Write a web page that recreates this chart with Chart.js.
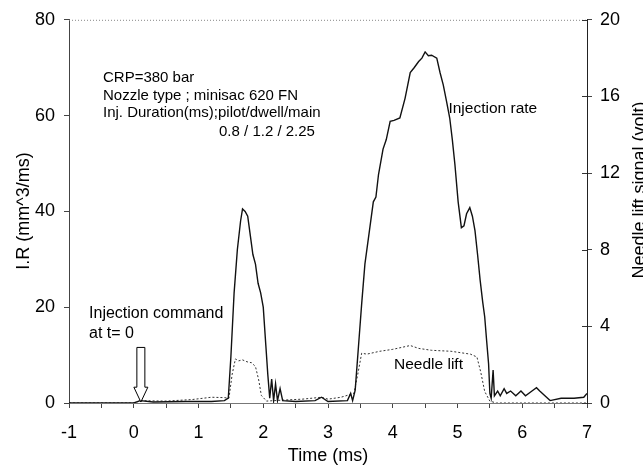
<!DOCTYPE html>
<html>
<head>
<meta charset="utf-8">
<script src="https://cdn.jsdelivr.net/npm/chart.js@4.4.1/dist/chart.umd.min.js"></script>
<style>
  html, body { margin: 0; padding: 0; background: #fff; }
  #wrap { width: 643px; height: 472px; }
</style>
</head>
<body>
<div id="wrap"><canvas id="myChart"></canvas></div>
<script>
// injection rate, mm^3/ms (left axis)
let rateTime = [-1.0, 0.0, 0.1, 0.3, 0.8, 1.2, 1.40, 1.46, 1.50, 1.55, 1.60, 1.65, 1.68, 1.72, 1.76, 1.80, 1.84, 1.88, 1.92, 1.96, 2.00, 2.04, 2.07, 2.10, 2.13, 2.16, 2.19, 2.22, 2.26, 2.30, 2.5, 2.8, 2.9, 3.0, 3.3, 3.35, 3.38, 3.42, 3.47, 3.52, 3.57, 3.64, 3.70, 3.74, 3.78, 3.85, 3.90, 3.96, 4.02, 4.11, 4.19, 4.27, 4.33, 4.40, 4.45, 4.50, 4.55, 4.60, 4.68, 4.73, 4.78, 4.83, 4.88, 4.92, 4.96, 5.01, 5.06, 5.10, 5.14, 5.19, 5.23, 5.27, 5.31, 5.35, 5.39, 5.42, 5.45, 5.48, 5.50, 5.52, 5.55, 5.57, 5.62, 5.66, 5.72, 5.76, 5.82, 5.90, 5.98, 6.05, 6.15, 6.22, 6.27, 6.35, 6.43, 6.6, 6.8, 6.95, 7.0]
let rateValue = [0, 0, 0.5, 0.2, 0.3, 0.3, 0.5, 1, 9.6, 23, 32, 38, 40.5, 40, 39, 35, 31, 29, 25, 23, 20, 12, 6, 1, 5, 0.5, 4, 0.5, 3, 0.5, 0.3, 0.5, 1.2, 0.3, 0.5, 2, 0.5, 2.7, 11.7, 20.7, 29, 36, 42, 43, 47.7, 53, 55, 58.8, 59, 59.5, 63.6, 69, 70, 71.3, 72, 73.3, 72.5, 72.6, 72, 69, 66.4, 63, 59.5, 55, 49.8, 42, 36.6, 37, 39.5, 40.8, 39, 36, 31, 25.6, 21, 18, 13, 8.2, 2, 1, 6.9, 1.5, 2.5, 1.5, 3, 2, 2.5, 1.5, 2.5, 1.5, 2.5, 3.2, 2.5, 1.5, 0.5, 1, 1, 1.2, 2]

// needle lift signal, volt (right axis)
let liftTime = [-1, 0, 0.1, 0.5, 0.9, 1.2, 1.4, 1.47, 1.52, 1.57, 1.62, 1.68, 1.75, 1.82, 1.88, 1.93, 1.97, 2.05, 2.3, 2.6, 2.9, 3.0, 3.2, 3.4, 3.46, 3.52, 3.6, 3.8, 4.0, 4.27, 4.4, 4.6, 4.9, 5.2, 5.3, 5.36, 5.42, 5.5, 5.6, 7]
let liftValue = [0, 0, 0.12, 0.1, 0.18, 0.3, 0.28, 0.25, 1.5, 2.3, 2.2, 2.25, 2.15, 2.1, 1.9, 1.2, 0.4, 0.1, 0.15, 0.2, 0.3, 0.2, 0.3, 0.5, 1.5, 2.6, 2.55, 2.7, 2.8, 3.0, 2.85, 2.75, 2.7, 2.55, 2.4, 1.6, 0.6, 0.1, 0, 0]

let xTicks = [-1, 0, 1, 2, 3, 4, 5, 6, 7]
let leftTicks = [0, 20, 40, 60, 80]
let rightTicks = [0, 4, 8, 12, 16, 20]

const FONT = "'Liberation Sans', Arial, sans-serif"

const extras = {
    id: "extras",
    afterDraw(chart) {
        const ctx = chart.ctx
        const a = chart.chartArea
        const x = chart.scales.x, y = chart.scales.y, y1 = chart.scales.y1
        ctx.save()

        // dotted top border
        ctx.strokeStyle = "#888"
        ctx.lineWidth = 1
        ctx.setLineDash([1, 2])
        ctx.beginPath()
        ctx.moveTo(a.left, a.top + 0.5)
        ctx.lineTo(a.right, a.top + 0.5)
        ctx.stroke()
        ctx.setLineDash([])

        // inner ticks on right axis
        ctx.strokeStyle = "#333"
        rightTicks.forEach(v => {
            const py = Math.round(y1.getPixelForValue(v)) + 0.5
            ctx.beginPath()
            ctx.moveTo(a.right - 5, py)
            ctx.lineTo(a.right, py)
            ctx.stroke()
        })

        // annotations
        ctx.fillStyle = "#000"
        ctx.textAlign = "left"
        ctx.textBaseline = "middle"
        const notes = [
            ["CRP=380 bar", -0.475, 67.8, 15],
            ["Nozzle type ; minisac 620 FN", -0.475, 64.2, 15],
            ["Inj. Duration(ms);pilot/dwell/main", -0.475, 60.5, 15],
            ["0.8 / 1.2 / 2.25", 1.317, 56.7, 15],
            ["Injection rate", 4.86, 61.5, 15.5],
            ["Needle lift", 4.02, 7.9, 15.5],
            ["Injection command", -0.69, 18.7, 16],
            ["at t= 0", -0.69, 14.5, 16],
        ]
        notes.forEach(n => {
            ctx.font = n[3] + "px " + FONT
            ctx.fillText(n[0], x.getPixelForValue(n[1]), y.getPixelForValue(n[2]))
        })

        // hollow arrow at t = 0
        const ax = x.getPixelForValue(0.11)
        const top = y.getPixelForValue(11.6)
        const neck = y.getPixelForValue(3.3)
        const tip = y.getPixelForValue(0.2)
        ctx.strokeStyle = "#000"
        ctx.lineWidth = 1
        ctx.fillStyle = "#fff"
        ctx.beginPath()
        ctx.moveTo(ax - 4, top)
        ctx.lineTo(ax + 4, top)
        ctx.lineTo(ax + 4, neck)
        ctx.lineTo(ax + 7, neck)
        ctx.lineTo(ax, tip)
        ctx.lineTo(ax - 7, neck)
        ctx.lineTo(ax - 4, neck)
        ctx.closePath()
        ctx.fill()
        ctx.stroke()

        // axis titles
        ctx.fillStyle = "#000"
        ctx.font = "18px " + FONT
        ctx.textAlign = "center"
        ctx.textBaseline = "middle"
        ctx.fillText("Time (ms)", (a.left + a.right) / 2, 456)

        ctx.save()
        ctx.translate(24, 211)
        ctx.rotate(-Math.PI / 2)
        ctx.fillText("I.R (mm^3/ms)", 0, 0)
        ctx.restore()

        // right title runs off the canvas edge, as in the original
        ctx.save()
        ctx.font = "18px " + FONT
        ctx.textBaseline = "alphabetic"
        ctx.translate(645, 190)
        ctx.rotate(-Math.PI / 2)
        ctx.fillText("Needle lift signal (volt)", 0, 0)
        ctx.restore()

        ctx.restore()
    }
}

new Chart("myChart", {
    type: "line",
    data: {
        datasets: [
            {
                label: "Injection rate",
                data: rateTime.map((t, i) => ({ x: t, y: rateValue[i] })),
                borderColor: "#111",
                borderWidth: 1.4,
                pointRadius: 0,
                yAxisID: "y",
            },
            {
                label: "Needle lift",
                data: liftTime.map((t, i) => ({ x: t, y: liftValue[i] })),
                borderColor: "#333",
                borderWidth: 1,
                borderDash: [2, 2],
                pointRadius: 0,
                yAxisID: "y1",
            },
        ]
    },
    options: {
        responsive: true,
        maintainAspectRatio: false,
        animation: false,
        layout: { padding: { top: 18 } },
        plugins: {
            legend: { display: false },
            tooltip: { enabled: false }
        },
        scales: {
            x: {
                type: "linear",
                min: -1,
                max: 7,
                afterFit: s => { s.height = 69 },
                afterBuildTicks: s => { s.ticks = [] ; for (let v = -1; v <= 7; v += 0.5) s.ticks.push({ value: v }) },
                ticks: {
                    autoSkip: false,
                    maxRotation: 0,
                    padding: 14,
                    color: "#000",
                    font: { size: 18, family: FONT },
                    callback: v => xTicks.includes(v) ? String(v) : ""
                },
                grid: { drawOnChartArea: false, tickLength: 5, color: "#444" },
                border: { color: "#777", dash: [1, 2] }
            },
            y: {
                position: "left",
                min: 0,
                max: 80,
                afterFit: s => { s.width = 69 },
                afterBuildTicks: s => { s.ticks = leftTicks.map(v => ({ value: v })) },
                ticks: {
                    padding: 9,
                    color: "#000",
                    font: { size: 18, family: FONT }
                },
                grid: { drawOnChartArea: false, tickLength: 5, color: "#444" },
                border: { color: "#444" }
            },
            y1: {
                position: "right",
                min: 0,
                max: 20,
                afterFit: s => { s.width = 56 },
                afterBuildTicks: s => { s.ticks = rightTicks.map(v => ({ value: v })) },
                ticks: {
                    padding: 8,
                    color: "#000",
                    font: { size: 18, family: FONT }
                },
                grid: { drawOnChartArea: false, tickLength: 5, color: "#444" },
                border: { color: "#222" }
            }
        }
    },
    plugins: [extras]
})
</script>
</body>
</html>
